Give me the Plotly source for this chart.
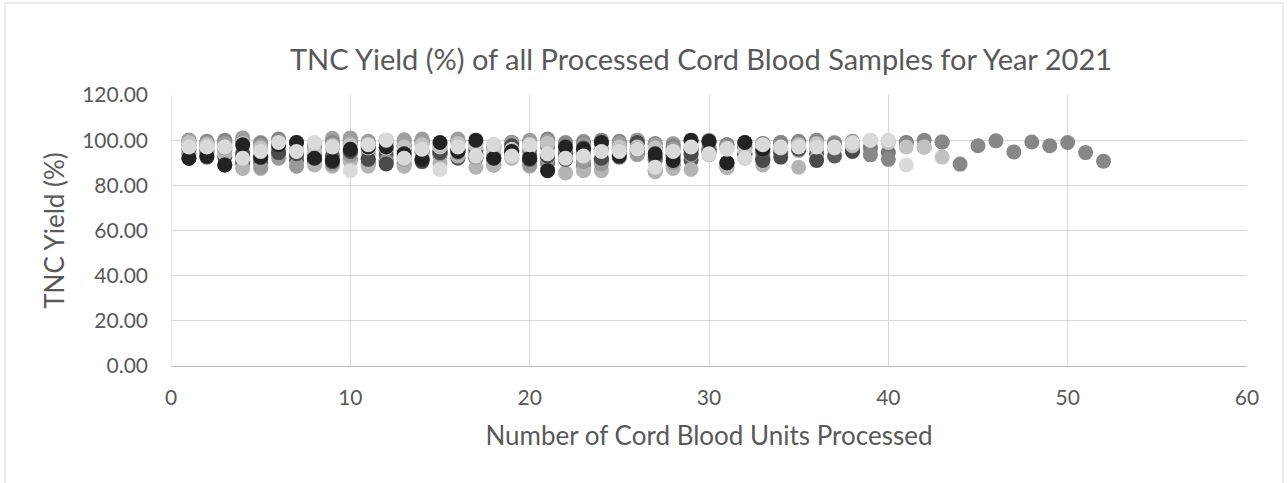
import plotly.graph_objects as go

# Monthly series of TNC yield (%) per processed cord blood unit (x = unit number within month)
jan = [99.5, 98.8, 99.2, 100.5, 99.0, 100.2, 97.5, 98.5, 100.8, 101.0, 99.0, 98.8, 100.2, 100.0, 98.0, 99.5, 96.5, 98.0, 99.0, 100.0,
       99.8, 97.5, 99.5, 99.0, 98.8, 100.0, 97.5, 98.5, 99.5, 100.0, 96.5, 98.0, 98.5, 99.0, 95.5, 99.5, 99.0, 98.0, 96.0, 99.5]
feb = [98.0, 97.5, 95.5, 94.5, 96.0, 97.0, 93.5, 94.0, 96.5, 98.5, 96.0, 95.5, 97.5, 98.5, 95.0, 94.5, 95.5, 96.5, 97.0, 95.5,
       97.0, 95.5, 97.0, 96.0, 94.5, 99.0, 96.5, 97.0, 96.0, 99.5, 98.0, 96.5, 92.5, 97.5, 99.0, 96.5, 96.5, 96.0, 97.0, 94.5,
       99.0, 97.0, 99.2]
mar = [96.0, 95.5, 92.5, 90.5, 90.0, 94.0, 91.0, 90.5, 93.0, 94.5, 91.5, 93.5, 95.5, 94.5, 93.5, 92.0, 92.5, 91.0, 93.5, 93.0,
       92.5, 94.0, 93.5, 91.0, 92.5, 95.0, 91.5, 93.0, 91.0, 96.5, 89.5, 93.5, 94.5, 95.0, 96.0, 94.0, 93.0, 95.5]
apr = [94.0, 95.0, 97.0, 89.5, 91.5, 96.5, 93.5, 91.0, 89.0, 91.5, 89.5, 91.0, 89.5, 92.0, 94.5, 95.5, 92.0, 89.0, 95.0, 90.5,
       90.0, 93.0, 89.0, 91.0, 97.5, 94.0, 86.5, 89.0, 95.5, 95.0, 88.0, 97.0, 91.5, 94.5]
may = [100.0, 99.5, 100.0, 99.0, 98.5, 100.5, 99.0, 97.0, 99.0, 99.5, 98.0, 100.0, 97.5, 99.5, 96.5, 99.5, 98.5, 97.0, 99.0, 98.5,
       100.5, 99.0, 99.0, 100.0, 99.5, 99.5, 98.5, 97.5, 96.5, 99.0, 98.0, 99.0, 98.5, 99.0, 99.5, 100.0, 98.5, 99.5, 93.5, 91.5,
       98.8, 100.0, 99.2, 89.4, 97.5, 99.7, 94.8, 99.2, 97.5, 99.0, 94.5, 90.7]
jun = [97.5, 96.5, 94.0, 87.5, 87.5, 95.5, 89.0, 89.0, 88.5, 90.5, 88.5, 90.0, 88.5, 91.0, 90.0, 93.0, 88.0, 89.0, 92.0, 88.5,
       87.0, 85.5, 86.5, 86.5, 96.0, 93.5, 86.0, 87.5, 87.0, 95.0, 88.0, 92.0, 89.0, 96.5, 88.0, 92.0]
jul = [93.0, 94.0, 96.5, 92.5, 88.0, 92.0, 88.5, 95.5, 89.5, 93.5, 94.0, 90.5, 91.5, 94.5, 94.0, 94.5, 92.5, 93.5, 95.5, 89.0,
       91.5, 92.0, 90.5, 89.5, 93.0, 94.0, 91.0, 90.0, 93.5, 96.0]
aug = [100.0, 98.5, 98.5, 101.0, 97.5, 97.5, 95.5, 96.5, 98.0, 100.5, 99.5, 99.5, 99.0, 100.5, 95.0, 100.5, 96.0, 97.5, 98.5, 99.0,
       99.5, 97.0, 98.0, 96.0, 98.5, 100.0, 98.0, 96.0, 99.5]
sep = [92.0, 92.5, 89.0, 93.5, 92.5, 94.5, 94.0, 93.0, 90.5, 95.0, 91.5, 89.5, 93.0, 90.5, 94.5, 96.0, 94.0, 92.5, 97.5, 91.5,
       93.0, 91.5, 96.5, 92.0, 96.0, 99.0, 92.5, 93.5, 94.0, 95.0, 90.0, 94.0, 91.0, 92.5, 96.5, 91.0, 96.5, 95.0]
oct_ = [99.0, 98.0, 97.0, 98.5, 96.5, 98.5, 97.5, 95.0, 97.5, 98.0, 96.5, 96.5, 97.0, 98.0, 97.0, 98.5, 97.5, 95.5, 96.0, 97.0,
        98.5, 96.5, 95.5, 98.0, 97.0, 97.0, 96.5, 95.0, 97.5, 93.5, 96.5, 95.5, 96.0, 96.5, 98.0, 98.5, 96.5, 97.5, 100.0, 99.0,
        97.0, 97.0, 92.5]
nov = [92.0, 93.0, 89.0, 98.0, 92.5, 98.0, 99.0, 92.0, 91.0, 96.0, 97.0, 97.0, 94.0, 91.5, 99.0, 95.0, 100.0, 92.0, 95.0, 92.0,
       86.5, 97.0, 96.0, 99.0, 93.0, 96.0, 94.0, 91.0, 100.0, 99.5, 90.0, 99.0, 96.0]
dec = [97.0, 97.0, 97.0, 92.0, 95.0, 99.0, 95.0, 99.0, 97.0, 86.5, 98.0, 100.0, 92.0, 96.0, 87.0, 97.0, 93.0, 98.0, 93.0, 98.0,
       94.0, 92.0, 93.0, 95.0, 95.0, 96.0, 88.0, 95.0, 97.0, 94.0, 96.0, 92.0, 98.0, 97.0, 97.0, 97.0, 97.0, 99.0, 100.0, 100.0,
       89.0]

series_names = ["January", "February", "March", "April", "May", "June",
                "July", "August", "September", "October", "November", "December"]
series_values = [jan, feb, mar, apr, may, jun, jul, aug, sep, oct_, nov, dec]
series_colors = ["#a0a0a0", "#7a7a7a", "#5a5a5a", "#666666", "#878787", "#b4b4b4",
                 "#9a9a9a", "#9d9d9d", "#4a4a4a", "#c2c2c2", "#222222", "#dadada"]

x_ticks = [0, 10, 20, 30, 40, 50, 60]
y_ticks = [0, 20, 40, 60, 80, 100, 120]

fig = go.Figure()
for name, vals, col in zip(series_names, series_values, series_colors):
    fig.add_trace(go.Scatter(
        x=list(range(1, len(vals) + 1)), y=vals, mode="markers", name=name,
        marker=dict(size=15, color=col, line=dict(width=0)),
    ))

font_family = "Lato, 'Open Sans', sans-serif"
W, H = 1288, 483
L, R, T, B = 171, 41, 95, 117
pw, ph = W - L - R, H - T - B
fig.update_layout(
    width=W, height=H,
    paper_bgcolor="white", plot_bgcolor="white",
    margin=dict(l=L, r=R, t=T, b=B),
    showlegend=False,
    title=dict(text="TNC Yield (%) of all Processed Cord Blood Samples for Year 2021",
               x=(701) / W, xanchor="center", y=1 - 60 / H, yanchor="middle",
               font=dict(family=font_family, size=29, color="#595959")),
    font=dict(family=font_family, color="#595959"),
)
fig.update_xaxes(
    range=[0, 60], tickvals=x_ticks, showgrid=True, gridcolor="#d9d9d9", gridwidth=1,
    zeroline=False, showline=True, linecolor="#bfbfbf", linewidth=1,
    tickfont=dict(size=21, color="#595959"), ticks="", ticklabelstandoff=13,
    title=dict(text="Number of Cord Blood Units Processed", font=dict(size=26, color="#595959"), standoff=18),
    mirror=False,
)
fig.update_yaxes(
    range=[0, 120], tickvals=y_ticks, tickformat=".2f", showgrid=True, gridcolor="#d9d9d9", gridwidth=1,
    zeroline=False, showline=False,
    tickfont=dict(size=21, color="#595959"), ticks="", ticklabelstandoff=22,
    title=dict(text="TNC Yield (%)", font=dict(size=26, color="#595959"), standoff=10),
)
# outer chart border
fig.add_shape(type="rect", xref="paper", yref="paper",
              x0=(5 - L) / pw, x1=(1283 - L) / pw,
              y0=(ph - (495 - T)) / ph, y1=(ph + T - 3) / ph,
              line=dict(color="#d9d9d9", width=1), fillcolor="rgba(0,0,0,0)", layer="below")
# left edge gridline of plot area
fig.add_shape(type="line", xref="x", yref="y", x0=0, x1=0, y0=0, y1=120,
              line=dict(color="#d9d9d9", width=1), layer="below")

fig.write_html("out.html", config={"displayModeBar": False},
               post_script="document.body.style.margin='0';document.body.style.overflow='hidden';")
